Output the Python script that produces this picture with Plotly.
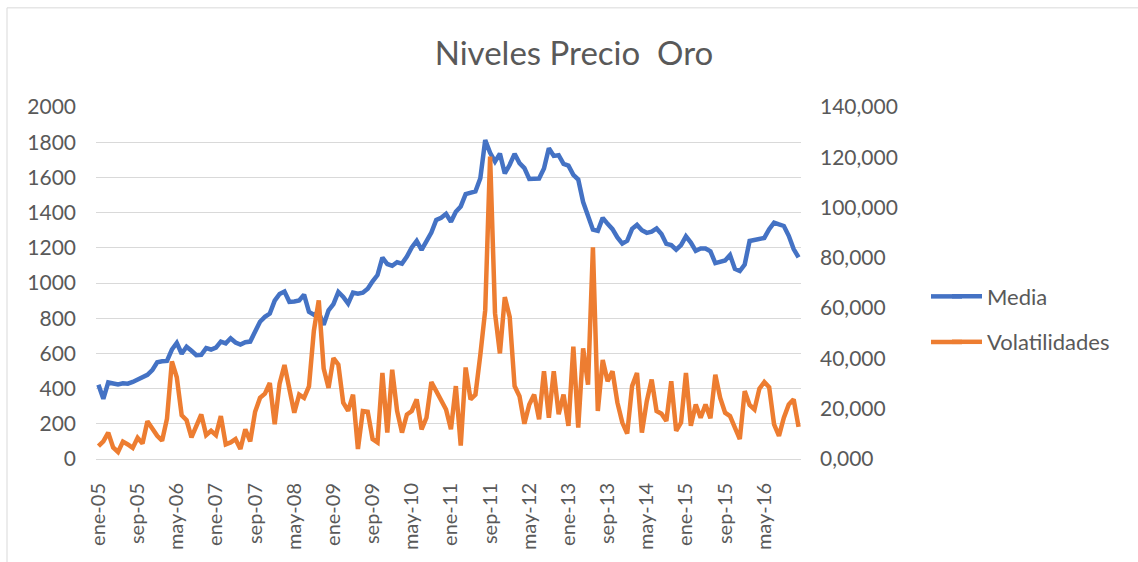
import plotly.graph_objects as go

years = list(range(5, 17))
month_abbr = ["ene", "feb", "mar", "abr", "may", "jun", "jul", "ago", "sep", "oct", "nov", "dic"]
categories = [f"{m}-{y:02d}" for y in years for m in month_abbr]

media = [
    422, 342, 435, 428, 424, 430, 428, 438, 452, 468, 478, 505,
    550, 555, 557, 622, 660, 598, 638, 615, 590, 592, 630, 622,
    633, 667, 657, 686, 662, 650, 664, 667, 722, 780, 808, 826,
    900, 938, 952, 893, 895, 901, 934, 836, 820, 832, 762, 845,
    880, 949, 921, 883, 945, 939, 945, 968, 1010, 1045, 1145, 1108,
    1098, 1118, 1110, 1150, 1202, 1239, 1188, 1232, 1287, 1358, 1371, 1393,
    1348, 1405, 1435, 1505, 1515, 1520, 1595, 1812, 1740, 1690, 1735, 1622,
    1672, 1734, 1681, 1653, 1591, 1591, 1594, 1650, 1766, 1722, 1726, 1677,
    1667, 1615, 1588, 1460, 1380, 1303, 1296, 1370, 1336, 1306, 1259, 1224,
    1240, 1308, 1330, 1300, 1285, 1292, 1310, 1278, 1222, 1215, 1189, 1215,
    1265, 1230, 1183, 1196, 1196, 1180, 1113, 1120, 1128, 1159, 1080, 1068,
    1105, 1239, 1244, 1250, 1256, 1306, 1343, 1333, 1324, 1268, 1193, 1146,
]

volatilidades = [
    5.1, 7.0, 10.5, 4.6, 2.8, 6.9, 5.8, 4.4, 8.4, 6.2, 15.0, 11.7,
    9.2, 7.3, 16.0, 38.8, 32.5, 17.4, 15.4, 8.6, 13.5, 17.7, 9.5, 11.2,
    9.5, 17.1, 5.8, 6.6, 7.9, 4.0, 11.8, 7.0, 18.8, 24.3, 26.0, 30.2,
    13.8, 30.0, 37.4, 28.3, 18.4, 25.6, 24.3, 28.9, 51.0, 63.1, 36.0, 28.3,
    40.1, 37.5, 22.4, 19.1, 25.6, 4.0, 19.1, 18.8, 7.9, 6.6, 34.2, 10.5,
    35.5, 19.1, 10.5, 17.7, 19.1, 23.7, 11.8, 16.4, 30.6, 27.0, 23.0, 19.7,
    11.8, 29.0, 5.3, 36.4, 23.7, 25.6, 41.4, 59.2, 120.3, 58.0, 42.0, 64.4,
    56.5, 29.0, 25.0, 14.0, 21.7, 25.6, 15.8, 34.9, 16.4, 34.9, 17.8, 25.6,
    13.2, 44.7, 12.5, 44.0, 29.6, 84.2, 19.1, 39.4, 30.9, 34.9, 22.4, 14.5,
    10.1, 29.0, 34.2, 10.5, 23.0, 31.6, 19.1, 18.0, 15.1, 30.9, 11.2, 14.5,
    34.2, 13.2, 21.7, 16.4, 21.7, 16.2, 33.5, 24.3, 18.4, 17.1, 12.5, 7.9,
    27.0, 21.5, 19.7, 28.0, 30.6, 28.5, 13.8, 9.2, 16.4, 21.7, 23.7, 12.8,
]

tick_labels = categories[::8]

FONT = "Lato, Carlito, Calibri, 'Liberation Sans', sans-serif"
TXT = "#595959"
GRID = "#d9d9d9"
BLUE = "#4472C4"
ORANGE = "#ED7D31"
LW = 4.5

fig = go.Figure()
fig.add_trace(go.Scatter(
    x=categories, y=media, name="Media", mode="lines",
    line=dict(color=BLUE, width=LW), yaxis="y", legend="legend",
))
fig.add_trace(go.Scatter(
    x=categories, y=volatilidades, name="Volatilidades", mode="lines",
    line=dict(color=ORANGE, width=LW), yaxis="y2", legend="legend2",
))

W, H = 1138, 562
L, R, T, B = 96, 337, 107, 100
pw = W - L - R
ph = H - T - B


def px_x(x):
    return (x - L) / pw


def px_y(y):
    return (H - B - y) / ph


legend_items = [(298, BLUE), (344, ORANGE)]
shapes = [dict(type="rect", xref="paper", yref="paper",
               x0=px_x(7), x1=px_x(W + 5), y0=px_y(H + 5), y1=px_y(7),
               line=dict(color=GRID, width=1), fillcolor="rgba(0,0,0,0)",
               layer="below")]
for yy, col in legend_items:
    shapes.append(dict(type="line", xref="paper", yref="paper",
                       x0=px_x(931), x1=px_x(962), y0=px_y(yy), y1=px_y(yy),
                       line=dict(color=col, width=LW)))

fig.update_layout(
    width=W, height=H,
    margin=dict(l=L, r=R, t=T, b=B),
    paper_bgcolor="white", plot_bgcolor="white",
    separators=",.",
    showlegend=True,
    font=dict(family=FONT, color=TXT, size=21),
    title=dict(text="Niveles Precio  Oro", x=574 / W, xanchor="center",
               y=1 - 53 / H, yanchor="middle",
               font=dict(family=FONT, size=33, color=TXT)),
    xaxis=dict(
        type="category", categoryorder="array", categoryarray=categories,
        range=[-0.5, len(categories) - 0.5],
        tickmode="array", tickvals=tick_labels, ticktext=tick_labels,
        tickangle=-90, showgrid=False, showline=True, linecolor=GRID, linewidth=1,
        ticks="", ticklabelstandoff=15, tickfont=dict(size=20, color=TXT),
        zeroline=False,
    ),
    yaxis=dict(
        range=[0, 2000], dtick=200, tick0=0, showgrid=True, gridcolor=GRID, gridwidth=1,
        showline=False, ticks="", zeroline=False, tickformat="d",
        ticklabelstandoff=19, tickfont=dict(size=21, color=TXT),
    ),
    yaxis2=dict(
        range=[0, 140], dtick=20, tick0=0, overlaying="y", side="right",
        showgrid=False, showline=False, ticks="", zeroline=False, tickformat=".3f",
        ticklabelstandoff=18, tickfont=dict(size=21, color=TXT),
    ),
    legend=dict(x=px_x(947), y=px_y(298), xanchor="left", yanchor="middle",
                bgcolor="rgba(0,0,0,0)", font=dict(size=22, color=TXT)),
    legend2=dict(x=px_x(947), y=px_y(344), xanchor="left", yanchor="middle",
                 bgcolor="rgba(0,0,0,0)", font=dict(size=22, color=TXT)),
    shapes=shapes,
)

fig.write_html("out.html", config={"displayModeBar": False},
               post_script="document.body.style.margin='0';")
